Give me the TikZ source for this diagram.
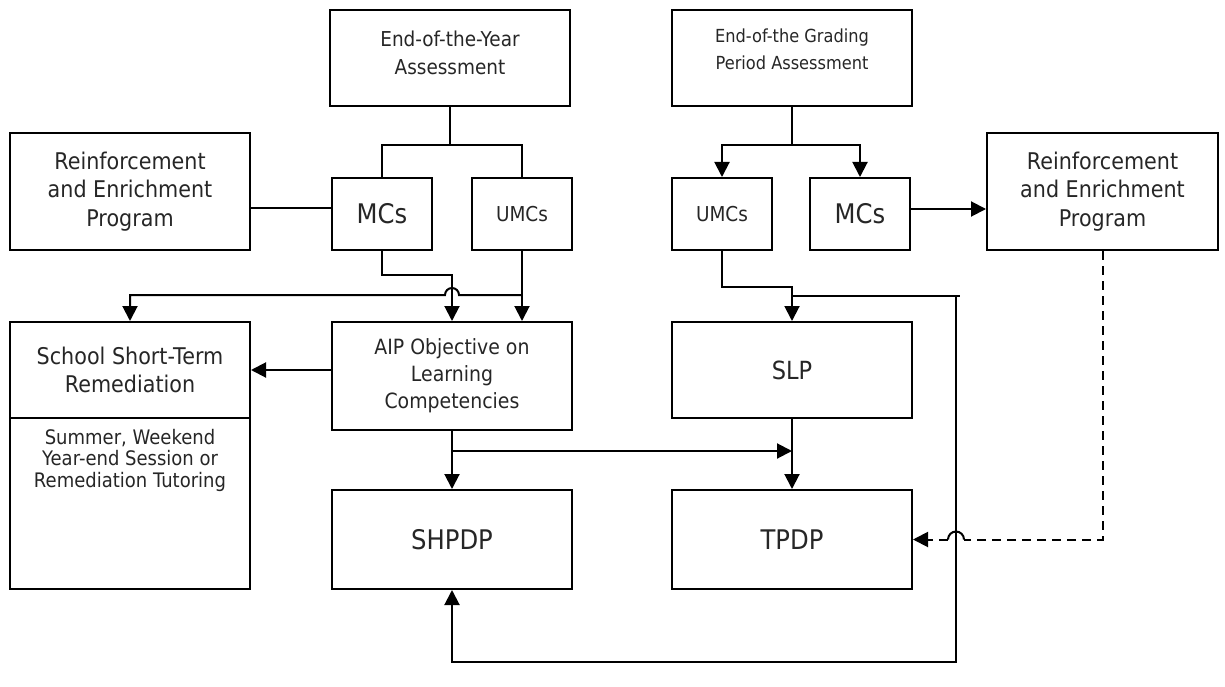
\documentclass[tikz,border=0pt]{standalone}
\usepackage{fontspec}
\setmainfont{DejaVu Sans}[FakeStretch=0.9]
\usetikzlibrary{arrows.meta,calc}

\newcommand{\fs}[2]{\fontsize{#1}{#2}\selectfont}

\begin{document}
\begin{tikzpicture}[x=1pt,y=-1pt,
  box/.style={draw,line width=2pt,rectangle,inner sep=0pt,align=center,
    text=black!85},
  txt/.style={inner sep=0pt,align=center,text=black!85},
  wire/.style={line width=2pt},
  dashwire/.style={line width=2pt,dash pattern=on 9pt off 6pt},
  tri/.style={-{Triangle[length=15pt,width=15pt]}}]
\useasboundingbox (0,0) rectangle (1225,687);

% ---------- boxes ----------
\node[box,minimum width=240pt,minimum height=96pt] (eoy) at (450,58) {};
\node[txt,font=\fs{20.5}{28}] (eoyText) at ([yshift=5pt]eoy.center)
  {End-of-the-Year\\Assessment};
\node[box,minimum width=240pt,minimum height=96pt] (grad) at (792,58) {};
\node[txt,font=\fs{18}{27}] (gradText) at ([yshift=9pt]grad.center)
  {End-of-the Grading\\Period Assessment};
\node[box,minimum width=240pt,minimum height=117pt,font=\fs{23}{28.5}] (repL) at (130,191.5)
  {Reinforcement\\and Enrichment\\Program};
\node[box,minimum width=100pt,minimum height=72pt,font=\fs{27}{30}] (mcsL) at (382,214) {MCs};
\node[box,minimum width=100pt,minimum height=72pt,font=\fs{20.5}{24}] (umcsL) at (522,214) {UMCs};
\node[box,minimum width=100pt,minimum height=72pt,font=\fs{20.5}{24}] (umcsR) at (722,214) {UMCs};
\node[box,minimum width=100pt,minimum height=72pt,font=\fs{27}{30}] (mcsR) at (860,214) {MCs};
\node[box,minimum width=231pt,minimum height=117pt,font=\fs{23}{28.5}] (repR) at (1102.5,191.5)
  {Reinforcement\\and Enrichment\\Program};
\node[box,minimum width=240pt,minimum height=96pt,font=\fs{23}{28.5}] (schoolA) at (130,370)
  {School Short-Term\\Remediation};
\node[box,minimum width=240pt,minimum height=171pt] (schoolB) at (130,503.5) {};
\node[txt,font=\fs{20}{21.5},anchor=north] (schoolBText) at ([yshift=-12pt]schoolB.north)
  {Summer, Weekend\\Year-end Session or\\Remediation Tutoring};
\node[box,minimum width=240pt,minimum height=108pt,font=\fs{21}{27}] (aip) at (452,376)
  {AIP Objective on\\Learning\\Competencies};
\node[box,minimum width=240pt,minimum height=96pt,font=\fs{25}{28}] (slp) at (792,370) {SLP};
\node[box,minimum width=240pt,minimum height=99pt,font=\fs{27}{30}] (shpdp) at (452,539.5) {SHPDP};
\node[box,minimum width=240pt,minimum height=99pt,font=\fs{27}{30}] (tpdp) at (792,539.5) {TPDP};

% ---------- junction points ----------
\coordinate (eoyFork) at (450,145);
\coordinate (gradFork) at (792,145);
\coordinate (repLink) at ([yshift=6pt]mcsL.west);
\coordinate (repRLink) at ([yshift=5pt]mcsR.east);
\coordinate (hopL) at (522,295);
\coordinate (aipFork) at (452,451);
\coordinate (loopR) at (956,296);
\coordinate (loopEnd) at (960,296);
\coordinate (loopB) at (956,662);
\coordinate (dashCorner) at (repR.south |- tpdp.east);
\coordinate (hopRa) at ($(loopR |- tpdp.east)+(8,0)$);
\coordinate (hopRb) at ($(loopR |- tpdp.east)+(-8,0)$);

% ---------- connectors ----------
\draw[wire] (eoy.south) -- (eoyFork);
\draw[wire] (mcsL.north) |- (eoyFork) -| (umcsL.north);
\draw[wire] (gradFork) -- (grad.south);
\draw[wire,{Triangle[length=15pt,width=15pt]}-{Triangle[length=15pt,width=15pt]}]
  (umcsR.north) |- (gradFork) -| (mcsR.north);

\draw[wire] (repLink) -- (repLink -| repL.east);
\draw[wire,tri] (repRLink) -- (repRLink -| repR.west);

\draw[wire,tri] (mcsL.south) -- ++(0,24) -| (aip.north);
\draw[wire,tri] (umcsL.south) -- (umcsL.south |- aip.north);
\draw[wire,tri] (hopL) -- ($(aip.north |- hopL)+(7,0)$)
  arc[start angle=0,end angle=-180,radius=7] -| (schoolA.north);

\draw[wire,tri] (aip.west |- schoolA.east) -- (schoolA.east);
\draw[wire,tri] (aip.south) -- (shpdp.north);
\draw[wire,tri] (aipFork) -- (aipFork -| slp.south);
\draw[wire,tri] (slp.south) -- (tpdp.north);

\draw[wire,tri] (umcsR.south) -- ++(0,36) -| (slp.north);
\draw[wire] (slp.north |- loopR) -- (loopEnd);
\draw[wire,tri] (loopR) -- (loopB) -| (shpdp.south);

% dashed link with a hop over the feedback line
\draw[dashwire] (repR.south) -- (dashCorner) -- (hopRa);
\draw[wire] (hopRa) arc[start angle=0,end angle=-180,radius=8];
\draw[dashwire,tri] (hopRb) -- (tpdp.east);
\end{tikzpicture}
\end{document}
